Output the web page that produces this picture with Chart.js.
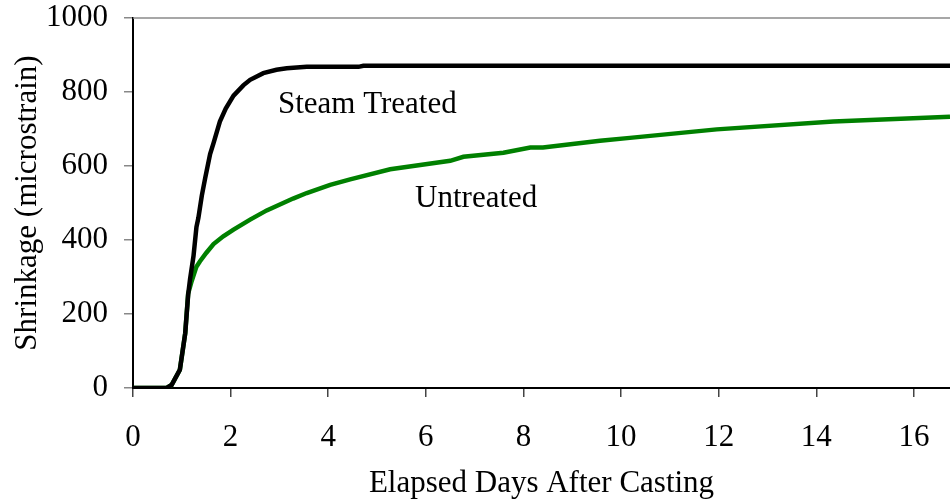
<!DOCTYPE html>
<html>
<head>
<meta charset="utf-8">
<script src="https://cdn.jsdelivr.net/npm/chart.js@4/dist/chart.umd.min.js"></script>
<style>
  html, body { margin: 0; padding: 0; background: #fff; }
  #wrap { width: 950px; height: 499px; }
</style>
</head>
<body>
<div id="wrap"><canvas id="c" width="950" height="499"></canvas></div>
<script>
// ---- Data ----
const steamDays   = [0, 0.69, 0.79, 0.96, 1.07, 1.13, 1.17, 1.24, 1.30, 1.34, 1.41, 1.48, 1.58, 1.65, 1.78, 1.90, 2.06, 2.26, 2.40, 2.67, 2.94, 3.15, 3.56, 4.62, 4.72, 16.74];
const steamValues = [0, 0,    8,    49,   148,  252,  295,  357,  435,  460,  520,  568,  632,  662,  720,  755,  790,  818,  833,  851,  860,  864,  868,  868,  871,  871];

const untreatedDays   = [0, 0.69, 0.79, 0.96, 1.07, 1.13, 1.20, 1.30, 1.37, 1.50, 1.65, 1.85, 2.06, 2.40, 2.74, 3.28, 3.56, 4.04, 4.45, 5.27, 6.50, 6.77, 7.59, 8.14, 8.40, 9.57, 10.18, 11.96, 14.35, 16.74];
const untreatedValues = [0, 0,    8,    49,   148,  255,  288,  328,  342,  365,  389,  410,  428,  455,  480,  512,  527,  549,  564,  591,  614,  625,  636,  650,  650,  668,  676,   699,   720,   733];

const seriesNames = ["Steam Treated", "Untreated"];
const labelDays   = [2.97, 5.78];   // left edge of each in-plot label (days)
const labelValues = [743, 490];     // baseline of each in-plot label (microstrain)

const xTitle = "Elapsed Days After Casting";
const yTitle = "Shrinkage (microstrain)";
const xMin = 0, xMax = 16.74, xStep = 2;
const yMin = 0, yMax = 1000, yStep = 200;

// ---- Chart ----
const FONT = "'Liberation Serif', 'Times New Roman', serif";
const toXY = (xs, ys) => xs.map((x, i) => ({ x: x, y: ys[i] }));

const decorPlugin = {
  id: 'decor',
  afterDraw(chart) {
    const { ctx, chartArea, scales } = chart;
    ctx.save();
    // top border of plot area
    ctx.strokeStyle = '#8a8a8a';
    ctx.lineWidth = 1.5;
    ctx.beginPath();
    ctx.moveTo(chartArea.left, chartArea.top);
    ctx.lineTo(chartArea.right, chartArea.top);
    ctx.stroke();
    // series labels
    ctx.fillStyle = '#000';
    ctx.font = "31px " + FONT;
    ctx.textAlign = 'left';
    ctx.textBaseline = 'alphabetic';
    seriesNames.forEach((name, i) => {
      ctx.fillText(name, scales.x.getPixelForValue(labelDays[i]), scales.y.getPixelForValue(labelValues[i]));
    });
    ctx.restore();
  }
};

function noPad(scale) {
  scale.paddingTop = 0;
  scale.paddingBottom = 0;
  scale.paddingLeft = 0;
  scale.paddingRight = 0;
}

new Chart(document.getElementById('c'), {
  type: 'line',
  data: {
    datasets: [
      {
        label: seriesNames[0],
        data: toXY(steamDays, steamValues),
        borderColor: '#000000',
        borderWidth: 4.5,
        pointRadius: 0,
        tension: 0,
        fill: false
      },
      {
        label: seriesNames[1],
        data: toXY(untreatedDays, untreatedValues),
        borderColor: '#008000',
        borderWidth: 4.5,
        pointRadius: 0,
        tension: 0,
        fill: false
      }
    ]
  },
  options: {
    responsive: false,
    animation: false,
    devicePixelRatio: 1,
    locale: 'en-US',
    layout: { padding: { left: 0, right: 0, top: 18, bottom: 0 } },
    plugins: { legend: { display: false }, tooltip: { enabled: false } },
    scales: {
      x: {
        type: 'linear',
        min: xMin, max: xMax,
        afterFit(scale) { scale.height = 111; noPad(scale); },
        border: { display: true, color: '#000', width: 2 },
        grid: { display: true, drawOnChartArea: false, drawTicks: true, tickLength: 9, color: '#444', lineWidth: 1.5 },
        ticks: {
          stepSize: xStep,
          includeBounds: false,
          color: '#000',
          padding: 22,
          font: { family: FONT, size: 31, lineHeight: 1.2 },
          maxRotation: 0,
          format: { useGrouping: false }
        },
        title: {
          display: true,
          text: xTitle,
          color: '#000',
          font: { family: FONT, size: 31, lineHeight: 1.2 },
          padding: { top: 0, bottom: -3 }
        }
      },
      y: {
        type: 'linear',
        min: yMin, max: yMax,
        afterFit(scale) { scale.width = 133; noPad(scale); },
        border: { display: true, color: '#000', width: 2 },
        grid: { display: true, drawOnChartArea: false, drawTicks: true, tickLength: 9, color: '#888', lineWidth: 1.5 },
        ticks: {
          stepSize: yStep,
          color: '#000',
          padding: 16,
          font: { family: FONT, size: 31, lineHeight: 1.0 },
          format: { useGrouping: false }
        },
        title: {
          display: true,
          text: yTitle,
          color: '#000',
          font: { family: FONT, size: 31, lineHeight: 1.2 },
          padding: { top: 9, bottom: 0 }
        }
      }
    }
  },
  plugins: [decorPlugin]
});
</script>
</body>
</html>
